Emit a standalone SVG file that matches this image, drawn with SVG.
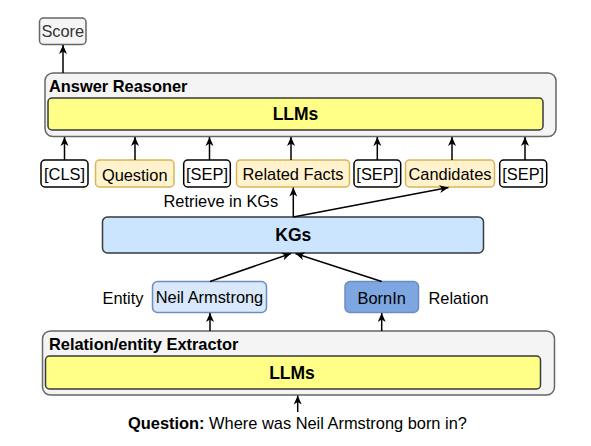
<svg xmlns="http://www.w3.org/2000/svg" width="591" height="446" viewBox="0 0 591 446">
<style>
text{font-family:"Liberation Sans",Arial,Helvetica,sans-serif;fill:#000}
.t{font-size:16.4px}
.b{font-weight:bold}
.mid{text-anchor:middle}
.outer{fill:#f4f4f4;stroke:#666;stroke-width:1.5}
.llm{fill:#ffff88;stroke:#36393d;stroke-width:1.5}
.tok{fill:#fff;stroke:#000;stroke-width:1.5}
.tokq{fill:#fff2cc;stroke:#d6b656;stroke-width:1.5}
.kg{fill:#cce5ff;stroke:#36393d;stroke-width:1.5}
.ent{fill:#dae8fc;stroke:#6c8ebf;stroke-width:1.5}
.rel{fill:#7ea6e0;stroke:#6c8ebf;stroke-width:1.5}
.score{fill:#f5f5f5;stroke:#666;stroke-width:1.5}
#connectors line{stroke:#000;stroke-width:1.5;marker-end:url(#arr)}
</style>
<defs>
<marker id="arr" markerUnits="userSpaceOnUse" markerWidth="10" markerHeight="9" refX="9" refY="4.5" orient="auto">
<path d="M0,0.5 L9,4.5 L0,8.5 L2.5,4.5 z" fill="#000"/>
</marker>
</defs>

<g id="score">
<rect class="score" x="39.5" y="18" width="46.5" height="26.5" rx="4"/>
<text class="t mid" x="62.8" y="37" style="fill:#333">Score</text>
</g>

<g id="answer-reasoner">
<rect class="outer" x="45" y="73" width="511" height="63.5" rx="8"/>
<text class="t b" x="49" y="92">Answer Reasoner</text>
<rect class="llm" x="48" y="98" width="495" height="32" rx="4"/>
<text class="b mid" x="295.5" y="120" font-size="17.5">LLMs</text>
</g>

<g id="tok-cls">
<rect class="tok" x="41" y="160" width="47" height="27" rx="4"/>
<text class="t mid" x="64.5" y="180">[CLS]</text>
</g>
<g id="tok-question">
<rect class="tokq" x="95.5" y="160" width="78.5" height="27" rx="4"/>
<text class="t mid" x="134.7" y="180.5">Question</text>
</g>
<g id="tok-sep1">
<rect class="tok" x="183.7" y="160" width="46.6" height="27" rx="4"/>
<text class="t mid" x="207" y="180">[SEP]</text>
</g>
<g id="tok-facts">
<rect class="tokq" x="236.5" y="160" width="113" height="27" rx="4"/>
<text class="t mid" x="293" y="180">Related Facts</text>
</g>
<g id="tok-sep2">
<rect class="tok" x="354" y="160" width="46.7" height="27" rx="4"/>
<text class="t mid" x="377.3" y="180">[SEP]</text>
</g>
<g id="tok-candidates">
<rect class="tokq" x="405.5" y="160" width="89" height="27" rx="4"/>
<text class="t mid" x="450" y="180">Candidates</text>
</g>
<g id="tok-sep3">
<rect class="tok" x="499.7" y="160" width="47" height="27" rx="4"/>
<text class="t mid" x="523.2" y="180">[SEP]</text>
</g>

<g id="retrieve-label">
<text class="t" x="163.5" y="207">Retrieve in KGs</text>
</g>

<g id="kgs">
<rect class="kg" x="102.5" y="217" width="381" height="36" rx="5"/>
<text class="b mid" x="293.3" y="241" font-size="17.5">KGs</text>
</g>

<g id="entity">
<text class="t" x="102.5" y="303.5">Entity</text>
<rect class="ent" x="152.5" y="281.5" width="114" height="31" rx="5"/>
<text class="t mid" x="209.5" y="303">Neil Armstrong</text>
</g>

<g id="relation">
<rect class="rel" x="345" y="281.5" width="73.5" height="31" rx="5"/>
<text class="t mid" x="381.7" y="303.5">BornIn</text>
<text class="t" x="428.5" y="303.5">Relation</text>
</g>

<g id="extractor">
<rect class="outer" x="42.5" y="331" width="512" height="64" rx="8"/>
<text class="t b" x="49" y="349.5">Relation/entity Extractor</text>
<rect class="llm" x="45.5" y="356" width="495" height="33" rx="4"/>
<text class="b mid" x="292" y="378.5" font-size="17.5">LLMs</text>
</g>

<g id="question">
<text class="t mid" x="297.5" y="429"><tspan class="b">Question:</tspan> Where was Neil Armstrong born in?</text>
</g>

<g id="connectors">
<line x1="63" y1="73" x2="63" y2="45"/>
<line x1="64.5" y1="160" x2="64.5" y2="137"/>
<line x1="135" y1="160" x2="135" y2="137"/>
<line x1="209.5" y1="160" x2="209.5" y2="137"/>
<line x1="291" y1="160" x2="291" y2="137"/>
<line x1="377.3" y1="160" x2="377.3" y2="137"/>
<line x1="452" y1="160" x2="452" y2="137"/>
<line x1="525" y1="160" x2="525" y2="137"/>
<line x1="293.3" y1="217" x2="293.3" y2="187.5"/>
<line x1="293.3" y1="217" x2="448.5" y2="187.5"/>
<line x1="210" y1="281.5" x2="291" y2="253.5"/>
<line x1="381.7" y1="281.5" x2="295.5" y2="253.5"/>
<line x1="210" y1="331" x2="210" y2="313"/>
<line x1="381.7" y1="331" x2="381.7" y2="313"/>
<line x1="297.7" y1="412" x2="297.7" y2="395.5"/>
</g>
</svg>
